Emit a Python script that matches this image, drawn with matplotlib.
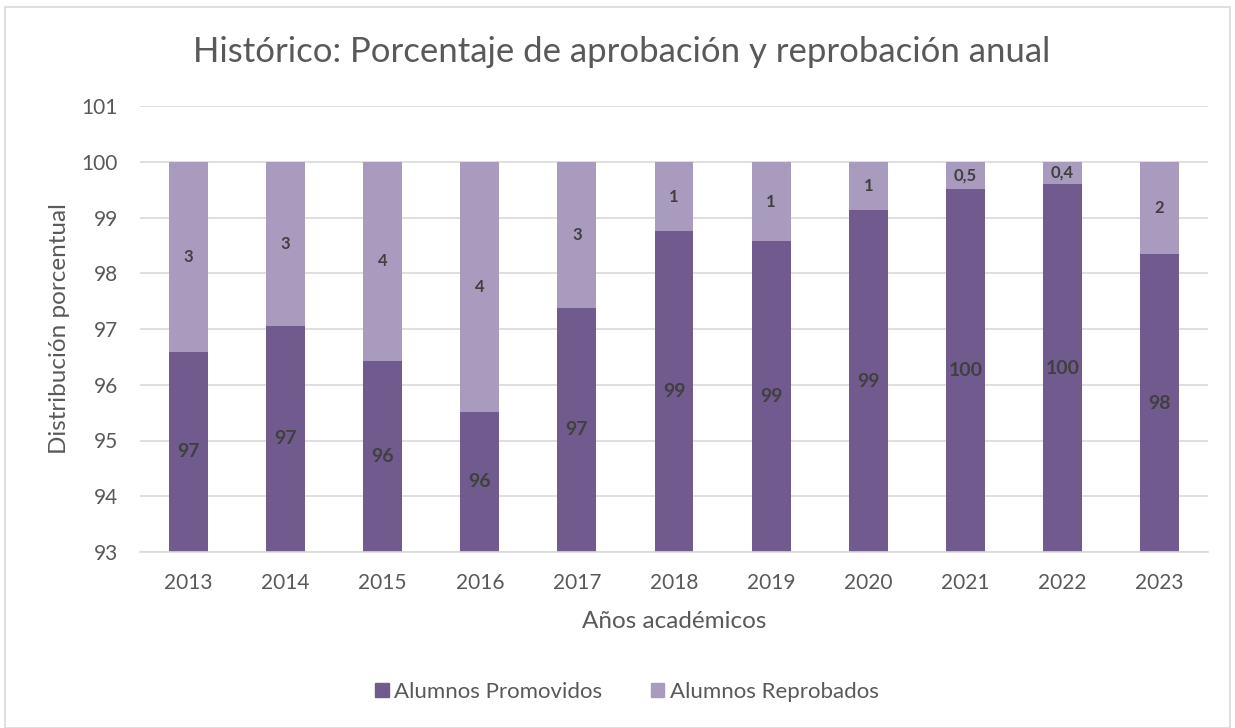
import numpy as np
import matplotlib.pyplot as plt
from matplotlib.patches import Rectangle

#%% Data
years = ['2013', '2014', '2015', '2016', '2017', '2018', '2019', '2020', '2021', '2022', '2023']
promovidos = [96.59, 97.06, 96.43, 95.52, 97.38, 98.75, 98.57, 99.13, 99.52, 99.60, 98.34]
reprobados = [3.41, 2.94, 3.57, 4.48, 2.62, 1.25, 1.43, 0.87, 0.48, 0.40, 1.66]
lab_prom = ['97', '97', '96', '96', '97', '99', '99', '99', '100', '100', '98']
lab_repr = ['3', '3', '4', '4', '3', '1', '1', '1', '0,5', '0,4', '2']

dark = '#705A8E'
light = '#A99BBE'
txt = '#595959'
lbl = '#404040'

plt.rcParams['font.family'] = ['Lato', 'DejaVu Sans']

#%% Plot
fig = plt.figure(figsize=(12.35, 7.28), dpi=100)
ax = fig.add_axes([140/1235, 1-552/728, (1208-140)/1235, (552-106)/728])

x = np.arange(len(years))
ymin, ymax = 93, 101
ax.bar(x, promovidos, width=0.40, color=dark, zorder=2)
ax.bar(x, reprobados, bottom=promovidos, width=0.40, color=light, zorder=2)

for i in range(len(years)):
    # labels centered on the visible part of each segment
    yc = (ymin + promovidos[i]) / 2
    ax.text(x[i], yc, lab_prom[i], ha='center', va='center', fontsize=14,
            weight='bold', color=lbl, zorder=3)
    yc2 = promovidos[i] + reprobados[i] / 2
    ax.text(x[i], yc2, lab_repr[i], ha='center', va='center', fontsize=12,
            weight='bold', color=lbl, zorder=3)

ax.set_xlim(-0.5, len(years) - 0.5)
ax.set_ylim(ymin, ymax)
ax.set_yticks(range(93, 102))
ax.set_xticks(x)
ax.set_xticklabels(years)
ax.yaxis.grid(True, color='#D9D9D9', linewidth=1.2, zorder=0)
ax.tick_params(axis='both', length=0, labelsize=15, labelcolor=txt)
ax.tick_params(axis='x', pad=15)
ax.tick_params(axis='y', pad=16)
for s in ax.spines.values():
    s.set_visible(False)
ax.spines['bottom'].set_visible(True)
ax.spines['bottom'].set_color('#D9D9D9')
ax.spines['bottom'].set_linewidth(1.2)

fig.text(622/1235, 1-52/728, 'Histórico: Porcentaje de aprobación y reprobación anual',
         ha='center', va='center', fontsize=25, color=txt)
fig.text(674/1235, 1-622/728, 'Años académicos', ha='center', va='center', fontsize=17.5, color=txt)
fig.text(60/1235, 1-329/728, 'Distribución porcentual', ha='center', va='center',
         rotation=90, fontsize=17.5, color=txt)

# legend
fig.legend(handles=[Rectangle((0, 0), 1, 1, color=dark), Rectangle((0, 0), 1, 1, color=light)],
           labels=['Alumnos Promovidos', 'Alumnos Reprobados'], loc='center',
           bbox_to_anchor=(627/1235, 1-692/728), ncol=2, frameon=False, fontsize=16,
           handlelength=0.6, handleheight=0.6, handletextpad=0.25, columnspacing=2.2,
           labelcolor=txt)

# chart border
fig.patches.append(Rectangle((5/1235, 0), 1225/1235, 1-7/728, transform=fig.transFigure,
                             fill=False, edgecolor='#D9D9D9', linewidth=1.2))

plt.savefig('out.png', dpi=100)
